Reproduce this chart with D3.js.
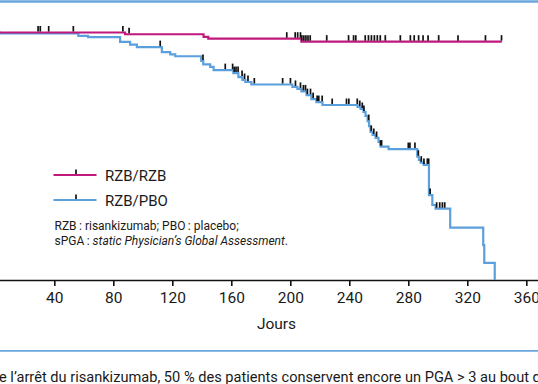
<!DOCTYPE html>
<html><head><meta charset="utf-8">
<script src="https://cdn.jsdelivr.net/npm/d3@7"></script>
<style>
html,body{margin:0;padding:0;background:#fff;overflow:hidden}
svg{display:block;font-family:Roboto,"Noto Sans",sans-serif}
</style></head>
<body>
<svg id="c" width="538" height="384"></svg>
<script>
// Kaplan-Meier steps: [day, survival]
const rzbRzbSteps = [[0,1.0],[88,0.993],[141.2,0.982],[144.4,0.975],[207.5,0.963],[343.4,0.963]];
const rzbRzbCensor = [29,30.5,36.2,52.9,86.5,90.7,197.6,203.3,205,206.9,207.8,209.2,210.6,212,213.5,224.7,239.5,242.9,244.4,250.8,253,255,257,259,261,264.4,274.6,281.4,284,287,290,293.4,300.6,313.7,332.3,343.2];

const rzbPboSteps = [[0,1.0],[3,0.996],[56.3,0.986],[62.9,0.981],[84.6,0.962],[91.4,0.951],[96,0.941],[112.9,0.921],[118.6,0.912],[122,0.904],
  [139.6,0.885],[141,0.871],[145.7,0.861],[148,0.848],[161.4,0.836],[164.8,0.820],[167.5,0.808],[169.5,0.800],[173.6,0.790],
  [201.4,0.780],[204.8,0.772],[207.5,0.762],[211,0.747],[214.3,0.731],[217.7,0.719],[221.8,0.707],
  [245.6,0.699],[247.6,0.691],[249.6,0.679],[251,0.663],[252.4,0.642],[253.4,0.622],[254.4,0.598],[255.8,0.586],[257.8,0.574],[259.8,0.558],[261.2,0.539],[266.6,0.529],
  [286.1,0.498],[287.2,0.485],[288.4,0.474],[290.4,0.465],[294,0.343],[296.3,0.303],[298.5,0.288],[308.4,0.212],[330.8,0.141],[331.5,0.069],[338.6,0.0]];
const rzbPboCensor = [111.8,140.8,155.9,160.9,162.0,163.2,164.6,167.3,169.0,171.3,175.6,194.8,200.1,203.5,206.9,208.9,210.3,211.6,213.7,215.5,218.2,219.3,221.6,228.4,238.1,239.7,245.4,247.1,248.8,249.9,253.2,254.9,256.6,258.5,261.2,261.9,280.0,281.1,284.5,286.8,288.8,290.6,292.9,293.8,294.8,299.2,301.3,303.1,304.7];

const xTicks = [40,80,120,160,200,240,280,320,360];
const seriesNames = ["RZB/RZB","RZB/PBO"];
const colors = ["#c0187c","#5b9fdc"];

const svg = d3.select("#c");
const x = d3.scaleLinear().domain([0,370]).range([-4.7, 541.05]);
const y = d3.scaleLinear().domain([0,1]).range([280, 32.5]);

// frame lines (top / bottom blue rules)
svg.append("line").attr("x1",0).attr("x2",538).attr("y1",1.5).attr("y2",1.5).attr("stroke","#6aa6de").attr("stroke-width",2.5);
svg.append("line").attr("x1",0).attr("x2",538).attr("y1",350.8).attr("y2",350.8).attr("stroke","#6aa6de").attr("stroke-width",1.8);

// axis
const ax = svg.append("g").attr("transform","translate(0,280)")
  .call(d3.axisBottom(x).tickValues(xTicks).tickSizeOuter(0).tickSize(6).tickPadding(6));
ax.select(".domain").attr("stroke","#111").attr("stroke-width",1.6);
ax.selectAll(".tick line").attr("stroke","#111").attr("stroke-width",1.6);
ax.selectAll(".tick text").attr("font-size",15.5).attr("fill","#1a1a1a").attr("font-family","Roboto");

svg.append("text").attr("x",276.5).attr("y",329).attr("text-anchor","middle")
  .attr("font-size",15.5).attr("fill","#1a1a1a").text("Jours");

const line = d3.line().x(d=>x(d[0])).y(d=>y(d[1])).curve(d3.curveStepAfter);
function survAt(steps,t){let s=steps[0][1];for(const p of steps){if(p[0]<=t+1e-9)s=p[1];}return s;}

function drawSeries(steps,censor,color){
  svg.append("path").datum(steps).attr("d",line).attr("fill","none").attr("stroke",color).attr("stroke-width",2.2);
  svg.append("g").selectAll("line").data(censor).join("line")
    .attr("x1",d=>x(d)).attr("x2",d=>x(d))
    .attr("y1",d=>y(survAt(steps,d))-1).attr("y2",d=>y(survAt(steps,d))-6.5)
    .attr("stroke","#111").attr("stroke-width",1.7);
}
drawSeries(rzbPboSteps,rzbPboCensor,colors[1]);
drawSeries(rzbRzbSteps,rzbRzbCensor,colors[0]);

// legend
const lg = svg.append("g");
[175,200].forEach((ly,i)=>{
  lg.append("line").attr("x1",53.5).attr("x2",96.5).attr("y1",ly).attr("y2",ly).attr("stroke",colors[i]).attr("stroke-width",2.2);
  lg.append("line").attr("x1",76).attr("x2",76).attr("y1",ly-1).attr("y2",ly-5.5).attr("stroke","#111").attr("stroke-width",1.7);
  lg.append("text").attr("x",105).attr("y",ly+5.5).attr("font-size",15).attr("fill","#1a1a1a").text(seriesNames[i]);
});
const n1 = svg.append("text").attr("x",54.5).attr("y",230).attr("font-size",12).attr("fill","#1a1a1a");
n1.text("RZB\u2009: risankizumab; PBO\u2009: placebo;");
const n2 = svg.append("text").attr("x",54.5).attr("y",244.5).attr("font-size",12).attr("fill","#1a1a1a");
n2.append("tspan").text("sPGA\u2009: ");
n2.append("tspan").attr("font-style","italic").text("static Physician\u2019s Global Assessment");
n2.append("tspan").text(".");

// caption (cropped)
svg.append("text").attr("x",-1).attr("y",382).attr("font-size",14.6).attr("fill","#1a1a1a")
  .text("e l\u2019arr\u00eat du risankizumab, 50 % des patients conservent encore un PGA > 3 au bout de");
</script>
</body></html>
